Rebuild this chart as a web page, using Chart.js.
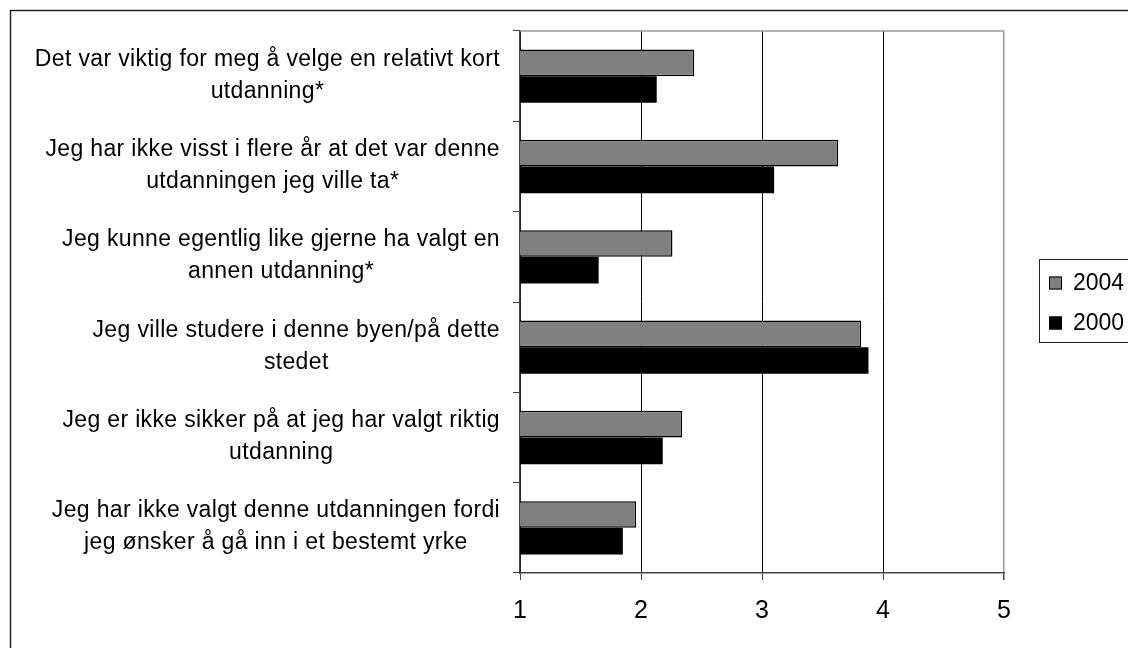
<!DOCTYPE html>
<html>
<head>
<meta charset="utf-8">
<script src="https://cdn.jsdelivr.net/npm/chart.js@4/dist/chart.umd.min.js"></script>
<style>
  body { margin: 0; background: #fff; }
  canvas { display: block; }
</style>
</head>
<body>
<canvas id="chart" width="1128" height="648"></canvas>
<script>
// Kategorier (linjer i hver etikett)
const categories = [
    ['Det var viktig for meg å velge en relativt kort', 'utdanning*'],
    ['Jeg har ikke visst i flere år at det var denne', 'utdanningen jeg ville ta*'],
    ['Jeg kunne egentlig like gjerne ha valgt en', 'annen utdanning*'],
    ['Jeg ville studere i denne byen/på dette', 'stedet'],
    ['Jeg er ikke sikker på at jeg har valgt riktig', 'utdanning'],
    ['Jeg har ikke valgt denne utdanningen fordi', 'jeg ønsker å gå inn i et bestemt yrke']
];
const values2004 = [2.44, 3.63, 2.26, 3.82, 2.34, 1.96];
const values2000 = [2.13, 3.10, 1.65, 3.88, 2.18, 1.85];
const xTicks = [1, 2, 3, 4, 5];

const FONT = '"Liberation Sans", Arial, sans-serif';

// Ramme rundt hele figuren + toppkant på plottet
const framePlugin = {
    id: 'frame',
    beforeDraw(chart) {
        const c = chart.ctx;
        c.save();
        c.fillStyle = '#fff';
        c.fillRect(0, 0, chart.width, chart.height);
        c.strokeStyle = '#222';
        c.lineWidth = 1.5;
        c.beginPath();
        c.moveTo(10.5, chart.height + 5);
        c.lineTo(10.5, 10.5);
        c.lineTo(chart.width + 5, 10.5);
        c.stroke();
        c.restore();
    },
    afterDatasetsDraw(chart) {
        const c = chart.ctx;
        const a = chart.chartArea;
        c.save();
        c.strokeStyle = '#999';
        c.lineWidth = 1.5;
        c.beginPath();
        c.moveTo(a.left, a.top);
        c.lineTo(a.right, a.top);
        c.stroke();
        c.restore();
    }
};

// Etiketter: høyrejustert blokk, linjene sentrert
const labelPlugin = {
    id: 'catLabels',
    afterDraw(chart) {
        const c = chart.ctx;
        const y = chart.scales.y;
        c.save();
        c.font = '23px ' + FONT;
        c.letterSpacing = '0.35px';
        c.fillStyle = '#000';
        c.textAlign = 'center';
        c.textBaseline = 'middle';
        const lineH = 32;
        chart.data.labels.forEach((lines, i) => {
            const widest = Math.max(...lines.map(l => c.measureText(l).width));
            const cx = 500 - widest / 2;
            const cy = y.getPixelForTick(i) - 1;
            lines.forEach((l, j) => {
                c.fillText(l, cx, cy + (j - (lines.length - 1) / 2) * lineH);
            });
        });
        c.restore();
    }
};

// Forklaring (delvis utenfor bildet, som i originalen)
const legendPlugin = {
    id: 'boxLegend',
    afterDraw(chart) {
        const c = chart.ctx;
        c.save();
        c.strokeStyle = '#222';
        c.lineWidth = 1;
        c.strokeRect(1039.5, 259.5, 120, 83);
        c.font = '23px ' + FONT;
        c.textBaseline = 'middle';
        c.textAlign = 'left';
        chart.data.datasets.forEach((ds, i) => {
            const cy = 283 + i * 40;
            c.fillStyle = ds.backgroundColor;
            c.fillRect(1049, cy - 6.5, 13, 13);
            c.strokeStyle = '#000';
            c.strokeRect(1049.5, cy - 6, 12, 12);
            c.fillStyle = '#000';
            c.fillText(ds.label, 1073, cy + 1);
        });
        c.restore();
    }
};

new Chart(document.getElementById('chart'), {
    type: 'bar',
    data: {
        labels: categories,
        datasets: [
            {
                label: '2004',
                data: values2004,
                backgroundColor: '#808080',
                borderColor: '#000',
                borderWidth: 1.5
            },
            {
                label: '2000',
                data: values2000,
                backgroundColor: '#000',
                borderColor: '#000',
                borderWidth: 0
            }
        ]
    },
    options: {
        indexAxis: 'y',
        responsive: false,
        animation: false,
        categoryPercentage: 0.59,
        barPercentage: 1.0,
        layout: { padding: { left: 0, right: 124, top: 31, bottom: 0 } },
        plugins: {
            legend: { display: false },
            tooltip: { enabled: false }
        },
        scales: {
            x: {
                min: 1,
                max: 5,
                afterBuildTicks: s => { s.ticks = xTicks.map(v => ({ value: v })); },
                afterFit: s => { s.height = 75; },
                grid: {
                    color: ctx => ctx.tick && ctx.tick.value === 5 ? '#999' : '#000',
                    lineWidth: ctx => ctx.tick && ctx.tick.value === 5 ? 1.5 : 1,
                    tickColor: '#444',
                    tickLength: 7
                },
                border: { color: '#444', width: 1.5 },
                ticks: {
                    font: { family: FONT, size: 25 },
                    color: '#000',
                    padding: 16
                }
            },
            y: {
                afterFit: s => { s.width = 520; },
                grid: {
                    offset: true,
                    drawOnChartArea: false,
                    tickColor: '#444',
                    tickLength: 7
                },
                border: { color: '#444', width: 1.5 },
                ticks: { display: false }
            }
        }
    },
    plugins: [framePlugin, labelPlugin, legendPlugin]
});
</script>
</body>
</html>
